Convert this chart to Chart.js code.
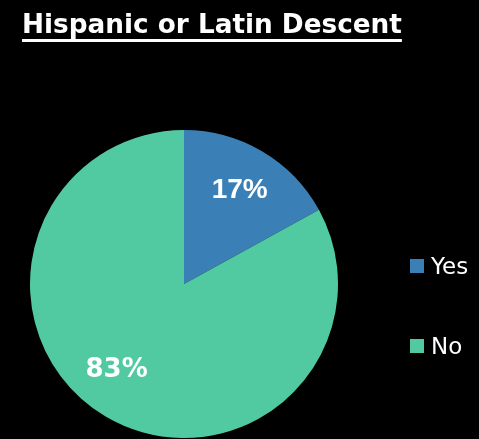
<!DOCTYPE html>
<html><head><meta charset="utf-8">
<script src="https://cdn.jsdelivr.net/npm/chart.js@4/dist/chart.umd.min.js"></script>
<style>
html,body{margin:0;padding:0;background:#000;width:479px;height:439px;overflow:hidden;}
#title{position:absolute;left:22px;top:9px;color:#fff;font-family:"DejaVu Sans";font-weight:bold;font-size:26.3px;text-decoration:underline;text-underline-offset:6px;text-decoration-thickness:3px;text-decoration-skip-ink:none;white-space:nowrap;}
#wrap{position:absolute;left:0;top:0;width:479px;height:439px;}
.leg{position:absolute;left:410px;color:#fff;font-family:"DejaVu Sans";font-size:23px;display:flex;align-items:center;}
.leg span.sw{width:14px;height:14px;display:inline-block;margin-right:7px;}
</style></head>
<body>
<div id="wrap"><canvas id="c" width="479" height="439"></canvas></div>
<div id="title">Hispanic or Latin Descent</div>
<div id="legend"></div>
<script>
const categories = ["Yes", "No"];
const values = [17, 83];
const labelsText = ["17%", "83%"];
const colors = ["#3A80B7", "#51CAA1"];

const labelPlugin = {
  id: 'sliceLabels',
  afterDatasetsDraw(chart) {
    const ctx = chart.ctx;
    const meta = chart.getDatasetMeta(0);
    const fonts = ['bold 28px "Liberation Sans"', 'bold 26px "DejaVu Sans"'];
    const frac = [0.71, 0.71];
    const angAdj = [0, 0.13];
    meta.data.forEach((arc, i) => {
      const p = arc.getProps(['x','y','startAngle','endAngle','outerRadius'], true);
      const a = (p.startAngle + p.endAngle) / 2 + angAdj[i];
      const r = p.outerRadius * frac[i];
      ctx.save();
      ctx.fillStyle = '#fff';
      ctx.font = fonts[i];
      ctx.textAlign = 'center';
      ctx.textBaseline = 'middle';
      ctx.fillText(labelsText[i], p.x + Math.cos(a) * r, p.y + Math.sin(a) * r);
      ctx.restore();
    });
  }
};

new Chart(document.getElementById('c'), {
  type: 'pie',
  data: { labels: categories, datasets: [{ data: values, backgroundColor: colors, borderWidth: 0 }] },
  options: {
    responsive: false, animation: false,
    layout: { padding: { left: 30, top: 130, right: 141, bottom: 1 } },
    plugins: { legend: { display: false }, title: { display: false }, tooltip: { enabled: false } }
  },
  plugins: [labelPlugin]
});

const legTops = [253, 333];
const lg = document.getElementById('legend');
categories.forEach((c, i) => {
  const d = document.createElement('div');
  d.className = 'leg';
  d.style.top = legTops[i] + 'px';
  d.innerHTML = '<span class="sw" style="background:' + colors[i] + '"></span>' + c;
  lg.appendChild(d);
});
</script>
</body></html>
